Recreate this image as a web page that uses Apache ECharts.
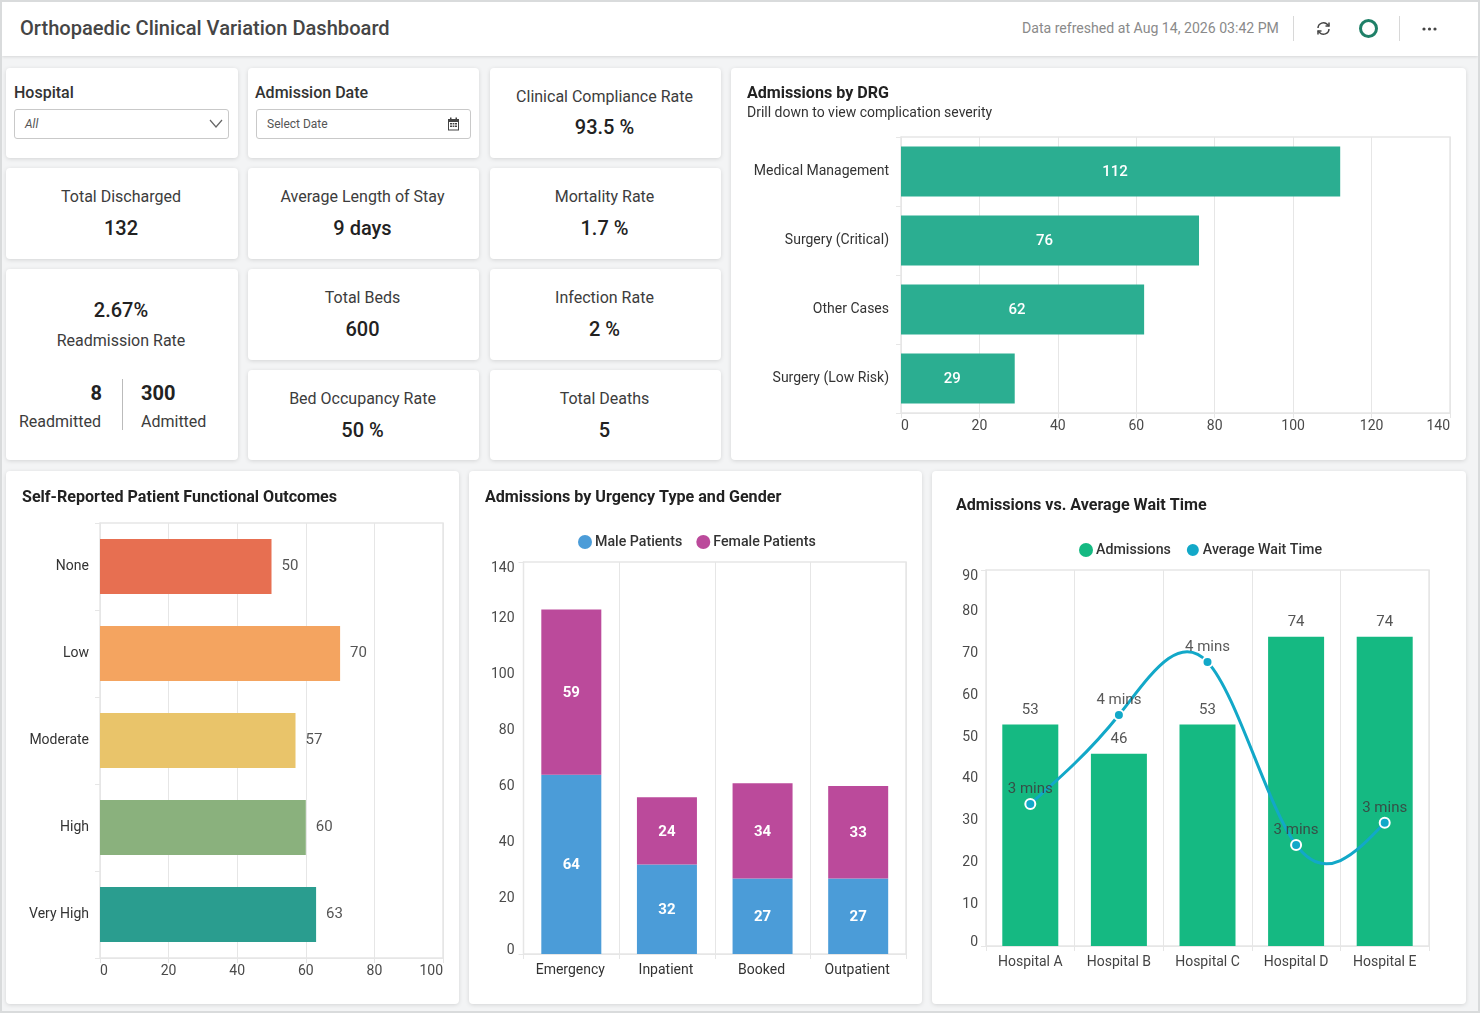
<!DOCTYPE html>
<html>
<head>
<meta charset="utf-8">
<title>Orthopaedic Clinical Variation Dashboard</title>
<script src="https://cdn.jsdelivr.net/npm/echarts@6/dist/echarts.min.js"></script>
<style>
    html, body { margin: 0; padding: 0; }
    body { width: 1480px; height: 1013px; position: relative; overflow: hidden; background: #f3f4f5; font-family: Roboto, sans-serif; color: #333; }
    .frame { position: absolute; left: 0; top: 0; width: 1476px; height: 1009px; border: 2px solid #d9dbdc; pointer-events: none; z-index: 5; }
    .header { position: absolute; left: 2px; top: 2px; width: 1476px; height: 54px; background: #fff; box-shadow: 0 1px 3px rgba(0,0,0,.12); }
    .header h1 { position: absolute; left: 18px; top: 13px; margin: 0; font-size: 20.1px; line-height: 26px; font-weight: 500; color: #454545; }
    .refreshed { position: absolute; left: 1020px; top: 17px; font-size: 14.1px; line-height: 18px; color: #8a8a8a; }
    .vline { position: absolute; top: 14px; width: 1px; height: 25px; background: #d8d8d8; }
    .ring { position: absolute; left: 1357px; top: 17px; width: 13px; height: 13px; border: 3px solid #1f8068; border-radius: 50%; }
    .card { position: absolute; background: #fff; border-radius: 4px; box-shadow: 0 1px 4px rgba(0,0,0,.13); }
    .kpi { text-align: center; }
    .kpi .name { position: absolute; left: 0; right: 2px; top: 19px; font-size: 16px; line-height: 20px; color: #3c3c3c; }
    .kpi .val { position: absolute; left: 0; right: 2px; top: 48px; font-size: 20px; line-height: 24px; font-weight: 500; color: #222; }
    .filter .name { position: absolute; left: 8px; top: 15px; font-size: 16px; line-height: 20px; font-weight: 500; color: #333; }
    .filter .box { position: absolute; left: 8px; top: 41px; width: 213px; height: 28px; border: 1px solid #c9c9c9; border-radius: 3px; font-size: 12px; line-height: 28px; color: #555; }
    .filter .box span { position: absolute; left: 10px; top: 0; }
    .filter svg { position: absolute; }
    .t { position: absolute; text-align: center; }
    .chart { position: absolute; }
</style>
</head>
<body>
<div class="frame"></div>
<div class="header">
    <h1>Orthopaedic Clinical Variation Dashboard</h1>
    <div class="refreshed">Data refreshed at Aug 14, 2026 03:42 PM</div>
    <div class="vline" style="left:1291px"></div>
    <svg style="position:absolute;left:1314px;top:19px" width="15" height="15" viewBox="0 0 15 15" fill="none" stroke="#444" stroke-width="1.5">
        <path d="M2 7 A5.5 5.5 0 0 1 11.5 3.5 L13 5"/><path d="M13 1.5 V5 H9.5"/>
        <path d="M13 8 A5.5 5.5 0 0 1 3.5 11.5 L2 10"/><path d="M2 13.5 V10 H5.5"/>
    </svg>
    <div class="ring"></div>
    <div class="vline" style="left:1397px"></div>
    <svg style="position:absolute;left:1420px;top:25px" width="15" height="4" viewBox="0 0 15 4" fill="#444">
        <circle cx="2" cy="2" r="1.6"/><circle cx="7.5" cy="2" r="1.6"/><circle cx="13" cy="2" r="1.6"/>
    </svg>
</div>

<div class="card filter" style="left:6px;top:68px;width:232px;height:90px">
    <div class="name">Hospital</div>
    <div class="box"><span style="font-style:italic">All</span></div>
    <svg style="left:203px;top:51px" width="14" height="9" viewBox="0 0 14 9" fill="none" stroke="#666" stroke-width="1.2"><path d="M1 1 L7 8 L13 1"/></svg>
</div>
<div class="card filter" style="left:248px;top:68px;width:231px;height:90px">
    <div class="name" style="left:7px">Admission Date</div>
    <div class="box"><span>Select Date</span></div>
    <svg style="left:199px;top:49px" width="13" height="14" viewBox="0 0 13 14" fill="#444"><path d="M1 2 H3 V0.5 H4.5 V2 H8.5 V0.5 H10 V2 H12 V13.5 H1 Z M2 5 V12.5 H11 V5 Z"/><path d="M3 6 H5 V7.6 H3 Z M5.6 6 H7.4 V7.6 H5.6 Z M8 6 H10 V7.6 H8 Z M3 8.4 H5 V10 H3 Z M5.6 8.4 H7.4 V10 H5.6 Z M8 8.4 H10 V10 H8 Z"/></svg>
</div>
<div class="card kpi" style="left:490px;top:68px;width:231px;height:90px"><div class="name">Clinical Compliance Rate</div><div class="val" style="top:47px">93.5 %</div></div>

<div class="card kpi" style="left:6px;top:168px;width:232px;height:91px"><div class="name">Total Discharged</div><div class="val">132</div></div>
<div class="card kpi" style="left:248px;top:168px;width:231px;height:91px"><div class="name">Average Length of Stay</div><div class="val">9 days</div></div>
<div class="card kpi" style="left:490px;top:168px;width:231px;height:91px"><div class="name">Mortality Rate</div><div class="val">1.7 %</div></div>

<div class="card" style="left:6px;top:269px;width:232px;height:191px">
    <div class="t" style="left:0;right:2px;top:29px;font-size:20px;line-height:24px;font-weight:500;color:#222">2.67%</div>
    <div class="t" style="left:0;right:2px;top:62px;font-size:16px;line-height:20px;color:#3c3c3c">Readmission Rate</div>
    <div class="t" style="left:0;width:96px;top:112px;font-size:20px;line-height:24px;font-weight:700;color:#222;text-align:right">8</div>
    <div class="t" style="left:13px;top:143px;font-size:16px;line-height:20px;color:#3c3c3c">Readmitted</div>
    <div style="position:absolute;left:116px;top:110px;width:1px;height:51px;background:#bbb"></div>
    <div class="t" style="left:135px;top:112px;font-size:20px;line-height:24px;font-weight:700;color:#222">300</div>
    <div class="t" style="left:135px;top:143px;font-size:16px;line-height:20px;color:#3c3c3c">Admitted</div>
</div>
<div class="card kpi" style="left:248px;top:269px;width:231px;height:91px"><div class="name">Total Beds</div><div class="val">600</div></div>
<div class="card kpi" style="left:490px;top:269px;width:231px;height:91px"><div class="name">Infection Rate</div><div class="val">2 %</div></div>
<div class="card kpi" style="left:248px;top:370px;width:231px;height:90px"><div class="name">Bed Occupancy Rate</div><div class="val">50 %</div></div>
<div class="card kpi" style="left:490px;top:370px;width:231px;height:90px"><div class="name">Total Deaths</div><div class="val">5</div></div>

<div class="card chart" id="drgChart" style="left:731px;top:68px;width:735px;height:392px"></div>
<div class="card chart" id="outcomeChart" style="left:6px;top:471px;width:453px;height:533px"></div>
<div class="card chart" id="urgencyChart" style="left:469px;top:471px;width:453px;height:533px"></div>
<div class="card chart" id="waitChart" style="left:932px;top:471px;width:534px;height:533px"></div>

<script>
var drgNames = ['Medical Management', 'Surgery (Critical)', 'Other Cases', 'Surgery (Low Risk)'];
var drgValues = [112, 76, 62, 29];

var outcomeNames = ['None', 'Low', 'Moderate', 'High', 'Very High'];
var outcomeValues = [50, 70, 57, 60, 63];
var outcomeColors = ['#e76f51', '#f4a460', '#e9c46a', '#8ab17d', '#2a9d8f'];

var urgencyNames = ['Emergency', 'Inpatient', 'Booked', 'Outpatient'];
var maleValues = [64, 32, 27, 27];
var femaleValues = [59, 24, 34, 33];

var hospitalNames = ['Hospital A', 'Hospital B', 'Hospital C', 'Hospital D', 'Hospital E'];
var admissionValues = [53, 46, 53, 74, 74];
var waitValues = [34, 55.3, 68, 24.2, 29.5];
var waitLabels = ['3 mins', '4 mins', '4 mins', '3 mins', '3 mins'];

var font = 'Roboto, sans-serif';
var lineColor = '#e6e6e6';
var labelColor = '#4a4a4a';

function titleOf(text, left, top) {
    return {
        text: text, left: left, top: top, padding: 0,
        textStyle: {fontFamily: font, fontSize: 16.1, fontWeight: 700, color: '#222'}
    };
}

function axisLine() {
    return {show: true, lineStyle: {color: lineColor}};
}

function axisTick() {
    return {show: true, length: 5, lineStyle: {color: lineColor}};
}

function splitLine() {
    return {show: true, lineStyle: {color: lineColor}};
}

function axisText(extra) {
    var o = {fontFamily: font, fontSize: 14, color: labelColor};
    for (var k in extra) o[k] = extra[k];
    return o;
}

//纵轴标签：首尾向内收，其余居中
function valueAxisText(margin) {
    return axisText({
        verticalAlignMinLabel: 'bottom', verticalAlignMaxLabel: 'top',
        lineHeight: 8, padding: [2, 0, 0, 0], margin: margin
    });
}

function legendOf(top, left, names) {
    return {
        top: top, left: left, icon: 'circle', itemWidth: 14, itemHeight: 14, itemGap: 14,
        data: names,
        textStyle: {fontFamily: font, fontSize: 14.2, fontWeight: 500, color: '#333', padding: [0, 0, 0, -2]}
    };
}

//Admissions by DRG
function drawDrg() {
    var chart = echarts.init(document.getElementById('drgChart'));
    chart.setOption({
        animation: false,
        title: {
            text: 'Admissions by DRG', subtext: 'Drill down to view complication severity',
            left: 16, top: 18, padding: 0, itemGap: 4,
            textStyle: {fontFamily: font, fontSize: 16.1, fontWeight: 700, color: '#222'},
            subtextStyle: {fontFamily: font, fontSize: 14, color: '#333'}
        },
        grid: {left: 170, right: 16, top: 69, bottom: 47, show: true, borderColor: lineColor, borderWidth: 1.5},
        xAxis: {
            type: 'value', min: 0, max: 140, interval: 20,
            axisLine: axisLine(), axisTick: axisTick(), splitLine: splitLine(),
            axisLabel: axisText({alignMinLabel: 'left', alignMaxLabel: 'right', margin: 6})
        },
        yAxis: {
            type: 'category', inverse: true, data: drgNames,
            axisLine: axisLine(), axisTick: axisTick(),
            axisLabel: axisText({color: '#333', margin: 12, padding: [2, 0, 0, 0]})
        },
        series: [{
            type: 'bar', data: drgValues, barWidth: 50,
            itemStyle: {color: '#2bae91'},
            label: {show: true, position: 'inside', offset: [-5.5, 0.5], color: '#fff', fontFamily: font, fontSize: 15, fontWeight: 500}
        }]
    });
}

//Self-Reported Patient Functional Outcomes
function drawOutcome() {
    var chart = echarts.init(document.getElementById('outcomeChart'));
    chart.setOption({
        animation: false,
        title: titleOf('Self-Reported Patient Functional Outcomes', 16, 19),
        grid: {left: 94, right: 16, top: 52, bottom: 46, show: true, borderColor: lineColor, borderWidth: 1.5},
        xAxis: {
            type: 'value', min: 0, max: 100, interval: 20,
            axisLine: axisLine(), axisTick: axisTick(), splitLine: splitLine(),
            axisLabel: axisText({alignMinLabel: 'left', alignMaxLabel: 'right', margin: 6})
        },
        yAxis: {
            type: 'category', inverse: true, data: outcomeNames,
            axisLine: axisLine(), axisTick: axisTick(),
            axisLabel: axisText({color: '#333', margin: 11})
        },
        series: [{
            type: 'bar', barWidth: 55,
            data: outcomeValues.map(function (v, i) {
                return {value: v, itemStyle: {color: outcomeColors[i]}};
            }),
            label: {show: true, position: 'right', distance: 10, color: '#555', fontFamily: font, fontSize: 15}
        }]
    });
}

//Admissions by Urgency Type and Gender
function drawUrgency() {
    var chart = echarts.init(document.getElementById('urgencyChart'));
    var stackLabel = {show: true, position: 'inside', offset: [0, 1], color: '#fff', fontFamily: font, fontSize: 15, fontWeight: 700};
    chart.setOption({
        animation: false,
        title: titleOf('Admissions by Urgency Type and Gender', 16, 19),
        legend: legendOf(59, 104, ['Male Patients', 'Female Patients']),
        grid: {left: 54.5, right: 16, top: 91, bottom: 50, show: true, borderColor: lineColor, borderWidth: 1.5},
        xAxis: {
            type: 'category', data: urgencyNames,
            axisLine: axisLine(), axisTick: axisTick(), splitLine: splitLine(),
            axisLabel: axisText({color: '#333', margin: 9, padding: [0, 2, 0, 0]})
        },
        yAxis: {
            type: 'value', min: 0, max: 140, interval: 20,
            axisLine: axisLine(), axisTick: {show: true, length: 5, customValues: [0, 140], lineStyle: {color: lineColor}}, splitLine: {show: false},
            axisLabel: valueAxisText(9)
        },
        series: [
            {name: 'Male Patients', type: 'bar', stack: 'total', barWidth: 60, data: maleValues,
                itemStyle: {color: '#4b9cd8'}, label: stackLabel},
            {name: 'Female Patients', type: 'bar', stack: 'total', barWidth: 60, data: femaleValues,
                itemStyle: {color: '#bb4a9b'}, label: stackLabel}
        ]
    });
}

//样条曲线的二阶导数，首尾为0
function splineMoments(y) {
    var n = y.length;
    var m = [0], c = [0], d = [0];
    for (var i = 1; i < n - 1; i++) {
        var w = 4 - c[i - 1];
        c[i] = 1 / w;
        d[i] = (6 * (y[i - 1] - 2 * y[i] + y[i + 1]) - d[i - 1]) / w;
    }
    m[n - 1] = 0;
    for (var j = n - 2; j > 0; j--) {
        m[j] = d[j] - c[j] * m[j + 1];
    }
    return m;
}

//Admissions vs. Average Wait Time
function drawWait() {
    var chart = echarts.init(document.getElementById('waitChart'));
    var moments = splineMoments(waitValues);
    var waitColor = '#12a8c8';

    function renderSegment(params, api) {
        var i = params.dataIndex;
        if (i >= waitValues.length - 1) return null;
        var y0 = waitValues[i], y1 = waitValues[i + 1];
        var slope0 = y1 - y0 - (2 * moments[i] + moments[i + 1]) / 6;
        var slope1 = y1 - y0 + (moments[i] + 2 * moments[i + 1]) / 6;
        var p0 = api.coord([i, y0]);
        var p1 = api.coord([i + 1, y1]);
        var c0 = api.coord([i, y0 + slope0 / 3]);
        var c1 = api.coord([i + 1, y1 - slope1 / 3]);
        return {
            type: 'bezierCurve',
            shape: {
                x1: p0[0], y1: p0[1], x2: p1[0], y2: p1[1],
                cpx1: p0[0] + (p1[0] - p0[0]) / 3, cpy1: c0[1],
                cpx2: p1[0] - (p1[0] - p0[0]) / 3, cpy2: c1[1]
            },
            style: {stroke: waitColor, lineWidth: 3, fill: null}
        };
    }

    chart.setOption({
        animation: false,
        title: titleOf('Admissions vs. Average Wait Time', 24, 27),
        legend: legendOf(66, 142, ['Admissions', 'Average Wait Time']),
        grid: {left: 54, right: 37, top: 99, bottom: 58, show: true, borderColor: lineColor, borderWidth: 1.5},
        xAxis: {
            type: 'category', data: hospitalNames,
            axisLine: axisLine(), axisTick: axisTick(), splitLine: splitLine(),
            axisLabel: axisText({color: '#444', margin: 9})
        },
        yAxis: {
            type: 'value', min: 0, max: 90, interval: 10,
            axisLine: axisLine(), axisTick: {show: true, length: 5, customValues: [0, 90], lineStyle: {color: lineColor}}, splitLine: {show: false},
            axisLabel: valueAxisText(8)
        },
        series: [
            {name: 'Admissions', type: 'bar', barWidth: 56, data: admissionValues,
                itemStyle: {color: '#15b982'},
                label: {show: true, position: 'top', distance: 7, color: '#555', fontFamily: font, fontSize: 15}},
            {type: 'custom', renderItem: renderSegment, data: waitValues, z: 3, silent: true},
            {name: 'Average Wait Time', type: 'line', data: waitValues, z: 4,
                symbol: 'circle', symbolSize: 10, showAllSymbol: true,
                lineStyle: {opacity: 0},
                itemStyle: {color: waitColor, borderColor: '#fff', borderWidth: 2},
                label: {
                    show: true, position: 'top', distance: 1, color: 'rgba(60,60,60,.85)', fontFamily: font, fontSize: 15,
                    formatter: function (p) { return waitLabels[p.dataIndex]; }
                }}
        ]
    });
}

drawDrg();
drawOutcome();
drawUrgency();
drawWait();
</script>
</body>
</html>
